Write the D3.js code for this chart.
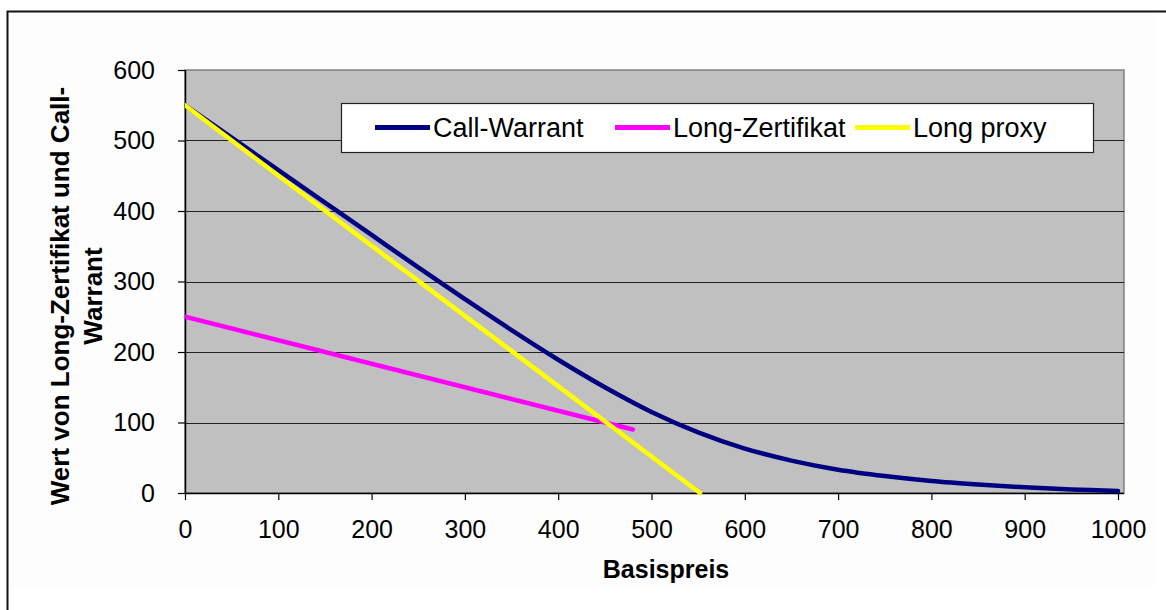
<!DOCTYPE html>
<html>
<head>
<meta charset="utf-8">
<script src="https://cdn.jsdelivr.net/npm/d3@7"></script>
<style>
  html, body { margin: 0; padding: 0; background: #ffffff; }
  svg { display: block; }
  text { font-family: Arial, "Liberation Sans", sans-serif; fill: #000; }
</style>
</head>
<body>
<svg id="chart" width="1166" height="610"></svg>
<script>
// Strike prices (x) and values for each instrument
const basispreis  = [0, 50, 100, 150, 200, 250, 300, 350, 400, 450, 500, 550, 600, 650, 700, 750, 800, 850, 900, 950, 1000];
const callWarrant = [550, 504, 458, 412, 366, 320, 275, 231, 189, 150, 115, 86, 63, 46, 33, 24, 17, 12, 8, 5, 3];

const longZertX = [0, 480];
const longZert  = [250, 90];

const proxyX    = [0, 552];
const longProxy = [550, 0];

const xTicks = [0, 100, 200, 300, 400, 500, 600, 700, 800, 900, 1000];
const yTicks = [0, 100, 200, 300, 400, 500, 600];

const seriesNames  = ["Call-Warrant", "Long-Zertifikat", "Long proxy"];
const seriesColors = ["#000080", "#ff00ff", "#ffff00"];

const svg = d3.select("#chart");

// Chart frame
svg.append("rect").attr("x", 7).attr("y", 11).attr("width", 1149).attr("height", 577).attr("fill", "#fdfdfd");
svg.append("path").attr("d", "M7.5,610 V11.5 H1166").attr("fill", "none").attr("stroke", "#111").attr("stroke-width", 2);

const plot = { left: 185, top: 70, right: 1124, bottom: 493 };

const x = d3.scaleLinear().domain([0, 1000]).range([185, 1118]);
const y = d3.scaleLinear().domain([0, 600]).range([plot.bottom, plot.top]);

// Plot background
svg.append("rect")
  .attr("x", plot.left).attr("y", plot.top)
  .attr("width", plot.right - plot.left).attr("height", plot.bottom - plot.top)
  .attr("fill", "#c0c0c0").attr("stroke", "#808080").attr("stroke-width", 1.5);

// Horizontal gridlines
svg.append("g").selectAll("line").data(yTicks.filter(d => d > 0 && d < 600)).join("line")
  .attr("x1", plot.left).attr("x2", plot.right)
  .attr("y1", d => Math.round(y(d)) + 0.5).attr("y2", d => Math.round(y(d)) + 0.5)
  .attr("stroke", "#222").attr("stroke-width", 1.2);

// Axes
const yAxis = svg.append("g").attr("transform", `translate(${plot.left},0)`)
  .call(d3.axisLeft(y).tickValues(yTicks).tickSize(7).tickPadding(23).tickFormat(d3.format("d")));
const xAxis = svg.append("g").attr("transform", `translate(0,${plot.bottom})`)
  .call(d3.axisBottom(x).tickValues(xTicks).tickSize(7).tickPadding(20).tickFormat(d3.format("d")));

[yAxis, xAxis].forEach(g => {
  g.select(".domain").attr("stroke", "#000").attr("stroke-width", 1.5);
  g.selectAll(".tick line").attr("stroke", "#000").attr("stroke-width", 1.2);
  g.selectAll(".tick text").attr("font-size", 25).attr("font-family", "Arial, 'Liberation Sans', sans-serif").attr("fill", "#000");
});
// keep the x domain line across the full plot width
xAxis.select(".domain").attr("d", `M${plot.left},0.5H${plot.right}`);
yAxis.select(".domain").attr("d", `M0.5,${plot.bottom}V${plot.top}`);

// Series lines, clipped to the plot area
svg.append("clipPath").attr("id", "plotClip").append("rect")
  .attr("x", plot.left).attr("y", plot.top - 3)
  .attr("width", plot.right - plot.left).attr("height", plot.bottom - plot.top + 6);

const lines = svg.append("g").attr("clip-path", "url(#plotClip)");

const smooth = d3.line().x(d => x(d[0])).y(d => y(d[1])).curve(d3.curveCatmullRom.alpha(0.5));
const straight = d3.line().x(d => x(d[0])).y(d => y(d[1]));

lines.append("path")
  .attr("d", smooth(d3.zip(basispreis, callWarrant)))
  .attr("fill", "none").attr("stroke", seriesColors[0]).attr("stroke-width", 4.5)
  .attr("stroke-linecap", "round").attr("stroke-linejoin", "round");

lines.append("path")
  .attr("d", straight(d3.zip(longZertX, longZert)))
  .attr("fill", "none").attr("stroke", seriesColors[1]).attr("stroke-width", 4.5)
  .attr("stroke-linecap", "round");

lines.append("path")
  .attr("d", straight(d3.zip(proxyX, longProxy)))
  .attr("fill", "none").attr("stroke", seriesColors[2]).attr("stroke-width", 4.5)
  .attr("stroke-linecap", "round");

// Legend
const legend = svg.append("g");
legend.append("rect")
  .attr("x", 341.5).attr("y", 103.5).attr("width", 752).attr("height", 49)
  .attr("fill", "#fff").attr("stroke", "#222").attr("stroke-width", 1.2);

const legendX = [375, 615, 855];
seriesNames.forEach((name, i) => {
  legend.append("line")
    .attr("x1", legendX[i]).attr("x2", legendX[i] + 55)
    .attr("y1", 127.5).attr("y2", 127.5)
    .attr("stroke", seriesColors[i]).attr("stroke-width", 5);
  legend.append("text")
    .attr("x", legendX[i] + 58).attr("y", 127.5).attr("dy", "0.36em")
    .attr("font-size", 27).text(name);
});

// Axis titles
svg.append("text")
  .attr("x", 666).attr("y", 578)
  .attr("text-anchor", "middle").attr("font-size", 25).attr("font-weight", "bold")
  .text("Basispreis");

const yTitle = svg.append("text")
  .attr("transform", "translate(69,296) rotate(-90)")
  .attr("text-anchor", "middle").attr("font-size", 26).attr("font-weight", "bold");
yTitle.append("tspan").attr("x", 0).attr("y", 0).text("Wert von Long-Zertifikat und Call-");
yTitle.append("tspan").attr("x", 0).attr("y", 33).text("Warrant");
</script>
</body>
</html>
